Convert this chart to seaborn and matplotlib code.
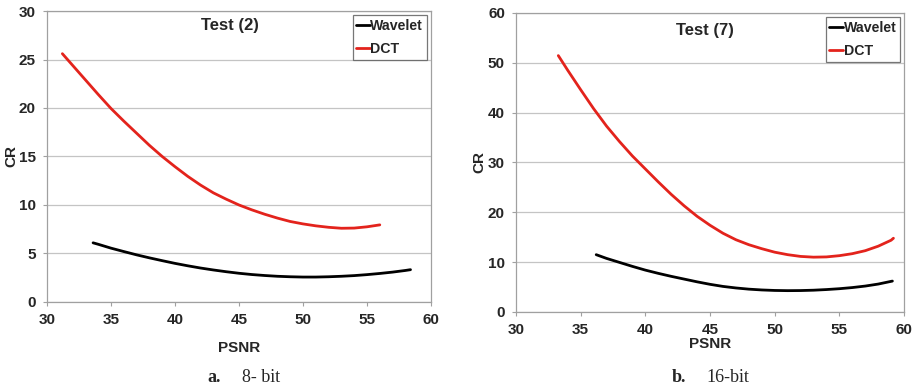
import matplotlib
matplotlib.use("Agg")
import matplotlib.pyplot as plt
import seaborn as sns
import pandas as pd

# ---- data ----
a_dct_psnr = [31.2, 32, 33, 34, 35, 36, 37, 38, 39, 40, 41, 42, 43, 44, 45, 46, 47, 48, 49, 50,
              51, 52, 53, 54, 55, 56]
a_dct_cr = [25.6, 24.4, 22.9, 21.4, 19.95, 18.65, 17.4, 16.15, 15.0, 13.95, 12.95, 12.05, 11.25,
            10.6, 10.0, 9.5, 9.05, 8.65, 8.3, 8.05, 7.85, 7.7, 7.6, 7.62, 7.75, 7.95]
a_wav_psnr = [33.6, 34, 35, 36, 37, 38, 39, 40, 41, 42, 43, 44, 45, 46, 47, 48, 49, 50, 51, 52,
              53, 54, 55, 56, 57, 58, 58.4]
a_wav_cr = [6.1, 5.95, 5.55, 5.2, 4.86, 4.55, 4.26, 3.98, 3.73, 3.5, 3.3, 3.12, 2.96, 2.83, 2.73,
            2.65, 2.6, 2.57, 2.57, 2.6, 2.65, 2.72, 2.82, 2.94, 3.08, 3.25, 3.33]

b_dct_psnr = [33.27, 34, 35, 36, 37, 38, 39, 40, 41, 42, 43, 44, 45, 46, 47, 48, 49, 50, 51, 52,
              53, 54, 55, 56, 57, 58, 59, 59.18]
b_dct_cr = [51.45, 48.5, 44.6, 40.8, 37.3, 34.2, 31.3, 28.7, 26.1, 23.6, 21.3, 19.2, 17.4, 15.8,
            14.5, 13.5, 12.7, 12.0, 11.5, 11.15, 11.0, 11.05, 11.3, 11.7, 12.3, 13.2, 14.4, 14.8]
b_wav_psnr = [36.2, 37, 38, 39, 40, 41, 42, 43, 44, 45, 46, 47, 48, 49, 50, 51, 52, 53, 54, 55,
              56, 57, 58, 59.1]
b_wav_cr = [11.5, 10.75, 9.95, 9.15, 8.4, 7.75, 7.15, 6.6, 6.05, 5.55, 5.13, 4.82, 4.58, 4.42,
            4.32, 4.28, 4.3, 4.37, 4.5, 4.67, 4.9, 5.2, 5.6, 6.2]

series_names = ["Wavelet", "DCT"]
titles = ["Test (2)", "Test (7)"]
captions = [("a.", "8- bit"), ("b.", "16-bit")]
x_ticks = [30, 35, 40, 45, 50, 55, 60]
a_y_ticks = [0, 5, 10, 15, 20, 25, 30]
b_y_ticks = [0, 10, 20, 30, 40, 50, 60]

sns.set_style("white")
plt.rcParams["font.family"] = ["Liberation Sans", "DejaVu Sans"]

RED = "#e3231c"
palette = {"Wavelet": "black", "DCT": RED}


def make_df(wx, wy, dx, dy):
    return pd.concat([
        pd.DataFrame({"PSNR": wx, "CR": wy, "Method": series_names[0]}),
        pd.DataFrame({"PSNR": dx, "CR": dy, "Method": series_names[1]}),
    ], ignore_index=True)


fig = plt.figure(figsize=(9.18, 3.89), dpi=100)
axA = fig.add_axes([0.0512, 0.2237, 0.4183, 0.748])
axB = fig.add_axes([0.5621, 0.198, 0.4227, 0.7686])

dfs = [make_df(a_wav_psnr, a_wav_cr, a_dct_psnr, a_dct_cr),
       make_df(b_wav_psnr, b_wav_cr, b_dct_psnr, b_dct_cr)]
yticks = [a_y_ticks, b_y_ticks]
title_pos = [(0.477, 0.975), (0.487, 0.968)]

for i, (ax, df) in enumerate(zip([axA, axB], dfs)):
    sns.lineplot(data=df, x="PSNR", y="CR", hue="Method", palette=palette,
                 sort=False, estimator=None, linewidth=2.0, ax=ax)
    ax.set_xlim(30, 60)
    ax.set_ylim(yticks[i][0], yticks[i][-1])
    ax.set_xticks(x_ticks)
    ax.set_yticks(yticks[i])
    ax.yaxis.grid(True, color="#c4c4c4", linewidth=0.9)
    ax.set_axisbelow(True)
    for s in ax.spines.values():
        s.set_color("#a0a0a0")
        s.set_linewidth(0.9)
    ax.tick_params(axis="both", which="major", length=3, width=0.8, color="#a0a0a0",
                   labelsize=11, direction="out")
    ax.tick_params(axis="x", pad=5)
    ax.tick_params(axis="y", pad=5)
    ax.tick_params(left=True, bottom=True)
    for lab in ax.get_xticklabels() + ax.get_yticklabels():
        lab.set_fontweight("bold")
    ax.set_xlabel("PSNR", fontsize=11, fontweight="bold")
    ax.set_ylabel("CR", fontsize=11, fontweight="bold")
    ax.set_title("")
    ax.text(title_pos[i][0], title_pos[i][1], titles[i],
            transform=ax.transAxes, ha="center", va="top",
            fontsize=12, fontweight="bold")
    leg = ax.legend(loc="upper right", frameon=True, fancybox=False,
                    handlelength=0.95, handletextpad=0.05, borderpad=0.25,
                    labelspacing=0.65, borderaxespad=0.3,
                    prop={"weight": "bold", "size": 10.2})
    leg.get_frame().set_edgecolor("#555555")
    leg.get_frame().set_linewidth(0.9)
    leg.set_title(None)

axA.xaxis.labelpad = 10
axA.yaxis.labelpad = 0.5
axB.xaxis.labelpad = 0
axB.yaxis.labelpad = 1

# captions
serif = ["Liberation Serif", "DejaVu Serif"]
fig.text(0.240, 0.018, captions[0][0], family=serif, fontweight="bold", fontsize=13, ha="right")
fig.text(0.264, 0.018, captions[0][1], family=serif, fontsize=13, ha="left")
fig.text(0.747, 0.018, captions[1][0], family=serif, fontweight="bold", fontsize=13, ha="right")
fig.text(0.769, 0.018, captions[1][1], family=serif, fontsize=13, ha="left")

fig.savefig("out.png", dpi=100)
